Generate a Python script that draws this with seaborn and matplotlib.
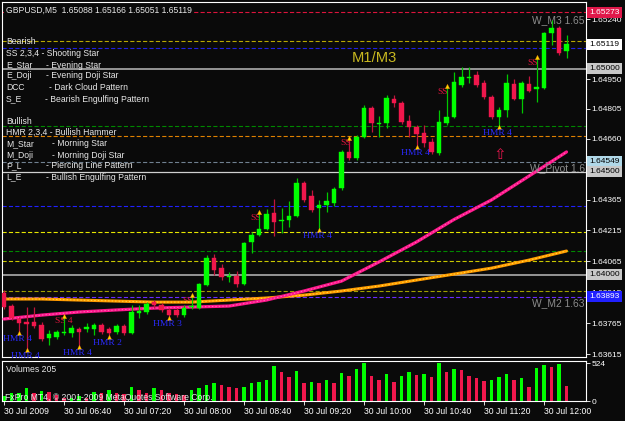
import numpy as np
import pandas as pd
import seaborn as sns
import matplotlib.pyplot as plt

# GBPUSD M5, 30 Jul 2009, one bar every 5 minutes from 06:00 to 12:15
opens = [1.63911, 1.63848, 1.63785, 1.63770, 1.63770, 1.63756, 1.63693, 1.63698, 1.63719, 1.63717,
         1.63736, 1.63736, 1.63736, 1.63756, 1.63736, 1.63722, 1.63751, 1.63717, 1.63814, 1.63819,
         1.63867, 1.63853, 1.63829, 1.63829, 1.63804, 1.63843, 1.63838, 1.63950, 1.64081, 1.64032,
         1.63991, 1.63994, 1.63955, 1.64159, 1.64193, 1.64222, 1.64300, 1.64263, 1.64266, 1.64285,
         1.64445, 1.64382, 1.64324, 1.64338, 1.64348, 1.64421, 1.64596, 1.64567, 1.64668, 1.64809,
         1.64734, 1.64736, 1.64853, 1.64834, 1.64746, 1.64717, 1.64688, 1.64644, 1.64591, 1.64736,
         1.64766, 1.64921, 1.64957, 1.64969, 1.64931, 1.64863, 1.64766, 1.64800, 1.64926, 1.64853,
         1.64926, 1.64901, 1.64906, 1.65173, 1.65198, 1.65088]
highs = [1.63926, 1.63858, 1.63795, 1.63843, 1.63843, 1.63770, 1.63732, 1.63732, 1.63800, 1.63756,
         1.63746, 1.63766, 1.63766, 1.63766, 1.63746, 1.63761, 1.63761, 1.63853, 1.63853, 1.63867,
         1.63877, 1.63863, 1.63838, 1.63838, 1.63853, 1.63901, 1.63960, 1.64096, 1.64100, 1.64052,
         1.64013, 1.64018, 1.64159, 1.64207, 1.64304, 1.64319, 1.64368, 1.64324, 1.64358, 1.64469,
         1.64455, 1.64411, 1.64363, 1.64401, 1.64426, 1.64605, 1.64664, 1.64678, 1.64824, 1.64819,
         1.64770, 1.64872, 1.64872, 1.64843, 1.64775, 1.64727, 1.64727, 1.64664, 1.64800, 1.64916,
         1.64984, 1.65008, 1.65008, 1.64989, 1.64945, 1.64872, 1.64814, 1.64974, 1.64950, 1.64940,
         1.64965, 1.65057, 1.65178, 1.65236, 1.65207, 1.65166]
lows = [1.63834, 1.63780, 1.63717, 1.63634, 1.63741, 1.63678, 1.63659, 1.63688, 1.63707, 1.63698,
        1.63649, 1.63722, 1.63707, 1.63712, 1.63698, 1.63712, 1.63707, 1.63712, 1.63790, 1.63809,
        1.63838, 1.63819, 1.63790, 1.63795, 1.63795, 1.63834, 1.63834, 1.63945, 1.63998, 1.63974,
        1.63964, 1.63940, 1.63950, 1.64105, 1.64188, 1.64217, 1.64188, 1.64202, 1.64232, 1.64280,
        1.64353, 1.64304, 1.64217, 1.64304, 1.64333, 1.64411, 1.64557, 1.64557, 1.64664, 1.64693,
        1.64668, 1.64712, 1.64814, 1.64732, 1.64668, 1.64620, 1.64620, 1.64586, 1.64581, 1.64727,
        1.64761, 1.64911, 1.64931, 1.64911, 1.64853, 1.64756, 1.64717, 1.64766, 1.64848, 1.64785,
        1.64887, 1.64838, 1.64901, 1.65115, 1.65067, 1.65051]
closes = [1.63843, 1.63790, 1.63766, 1.63761, 1.63751, 1.63688, 1.63712, 1.63722, 1.63722, 1.63741,
          1.63722, 1.63746, 1.63756, 1.63722, 1.63717, 1.63751, 1.63717, 1.63819, 1.63824, 1.63858,
          1.63853, 1.63829, 1.63804, 1.63804, 1.63838, 1.63846, 1.63955, 1.64081, 1.64023, 1.63989,
          1.63994, 1.63955, 1.64154, 1.64193, 1.64222, 1.64295, 1.64256, 1.64266, 1.64285, 1.64445,
          1.64363, 1.64314, 1.64338, 1.64358, 1.64416, 1.64596, 1.64567, 1.64668, 1.64809, 1.64736,
          1.64736, 1.64858, 1.64834, 1.64741, 1.64717, 1.64683, 1.64639, 1.64596, 1.64741, 1.64766,
          1.64935, 1.64960, 1.64960, 1.64921, 1.64863, 1.64766, 1.64800, 1.64931, 1.64853, 1.64931,
          1.64892, 1.64911, 1.65173, 1.65198, 1.65076, 1.65119]
volumes = [70, 107, 116, 176, 107, 139, 125, 79, 37, 46,
           70, 46, 125, 116, 153, 107, 93, 200, 153, 116,
           176, 153, 107, 93, 88, 153, 186, 218, 255, 218,
           195, 176, 200, 246, 269, 292, 478, 404, 334, 418,
           255, 269, 255, 292, 255, 385, 348, 441, 524, 348,
           292, 371, 269, 348, 404, 362, 371, 334, 524, 394,
           441, 432, 348, 316, 278, 292, 334, 371, 292, 316,
           200, 450, 501, 473, 515, 205]

# moving averages read every 5 bars
ma_bars = list(range(0, 76, 5))
ma_pink = [1.63785, 1.63804, 1.63819, 1.63829, 1.63838, 1.63843, 1.63848, 1.63877,
           1.63921, 1.63969, 1.64062, 1.64159, 1.64268, 1.64363, 1.64479, 1.64596]
ma_orange = [1.63882, 1.63882, 1.63877, 1.63872, 1.63867, 1.63867, 1.63877, 1.63887,
             1.63901, 1.63921, 1.63945, 1.63974, 1.64003, 1.64032, 1.64071, 1.64115]

# pivot / level lines
levels = [1.65273, 1.65134, 1.65100, 1.65000, 1.64722, 1.64673, 1.64549, 1.64500,
          1.64334, 1.64207, 1.64115, 1.64067, 1.64000, 1.63921, 1.63893]
level_colors = ['#dc143c', '#b8a800', '#2020e0', '#a0a0a0', '#008800', '#e08000', '#708090', '#d0d0d0',
                '#2020ff', '#e6e600', '#008800', '#c8c800', '#a0a0a0', '#a0a000', '#6a2bff']
level_solid = [False, False, False, True, False, False, False, True,
               False, False, False, False, True, False, False]

# weekly pivot names, cut off at the pane edge as in the terminal
pivot_names = ['W_M3 1.65', 'W_Pivot 1.6', 'W_M2 1.63']
pivot_y = [1.65236, 1.64518, 1.63863]

box_prices = [1.65273, 1.65119, 1.65000, 1.64549, 1.64500, 1.64000, 1.63893]
box_faces = ['#e0184a', '#ffffff', '#c8c8c8', '#b0d8e8', '#c8c8c8', '#c8c8c8', '#2020ff']
box_texts = ['white', 'black', 'black', 'black', 'black', 'black', 'white']

ss_bars = [8, 25, 34, 46, 59, 71]
ss_text = ['SS 4', 'SS', 'SS', 'SS', 'SS', 'SS']
hmr_bars = [2, 3, 10, 14, 22, 42, 55, 66]
hmr_text = ['HMR 4', 'HMR 4', 'HMR 4', 'HMR 2', 'HMR 3', 'HMR 4', 'HMR 4', 'HMR 4']

time_ticks = list(range(0, 76, 8))
time_labels = ['30 Jul 2009', '30 Jul 06:40', '30 Jul 07:20', '30 Jul 08:00', '30 Jul 08:40',
               '30 Jul 09:20', '30 Jul 10:00', '30 Jul 10:40', '30 Jul 11:20', '30 Jul 12:00']
price_ticks = [1.65240, 1.64950, 1.64805, 1.64660, 1.64365,
               1.64215, 1.64065, 1.63915, 1.63765, 1.63615]

legend_rows = [('Bearish', None), ('SS 2,3,4 - Shooting Star', None), ('E_Star', '- Evening Star'),
               ('E_Doji', '- Evening Doji Star'), ('DCC', '- Dark Cloud Pattern'),
               ('S_E', '- Bearish Engulfing Pattern'), ('Bullish', None),
               ('HMR 2,3,4 - Bullish Hammer', None), ('M_Star', '- Morning Star'),
               ('M_Doji', '- Morning Doji Star'), ('P_L', '- Piercing Line Pattern'),
               ('L_E', '- Bullish Engulfing Pattern')]
legend_y = [42, 53, 65, 76, 87, 99, 121, 132, 144, 155, 166, 177]
legend_dx = [0, 0, 40, 40, 43, 39, 0, 0, 46, 46, 40, 40]

BG = '#0a0a0a'
UP = '#00ff00'
DOWN = '#f0174c'
SS_COL = '#dc143c'
HMR_COL = '#2a2aff'

sns.set_style('dark', {'axes.facecolor': BG, 'figure.facecolor': BG, 'axes.edgecolor': 'white',
                       'text.color': 'white', 'xtick.color': 'white', 'ytick.color': 'white'})
plt.rcParams['font.family'] = ['Liberation Sans', 'DejaVu Sans']
plt.rcParams['lines.scale_dashes'] = False


def fx(px):
    return px / 625


def fy(py):
    return 1 - py / 421


fig = plt.figure(figsize=(6.25, 4.21), dpi=100)
ax = fig.add_axes([fx(2), fy(357), fx(584), 355 / 421])
axv = fig.add_axes([fx(2), fy(401), fx(584), 40 / 421])

o = np.array(opens)
h = np.array(highs)
l = np.array(lows)
c = np.array(closes)
idx = np.arange(len(o))
up = c >= o

# level lines
for p, col, solid in zip(levels, level_colors, level_solid):
    if solid:
        ax.axhline(p, color=col, lw=1.3 if col == '#a0a0a0' else 0.9, zorder=1)
    else:
        ax.axhline(p, color=col, lw=0.8, ls=(0, (3, 1.6)), zorder=1)

# moving averages
sns.lineplot(x=ma_bars, y=ma_orange, ax=ax, color='#ff9a00', lw=2.2, zorder=3)
sns.lineplot(x=ma_bars, y=ma_orange, ax=ax, color='#ffe040', lw=0.7, ls=(0, (1, 1.5)), zorder=3)
sns.lineplot(x=ma_bars, y=ma_pink, ax=ax, color='#ff168c', lw=2.3, zorder=3)
sns.lineplot(x=ma_bars, y=ma_pink, ax=ax, color='#ff70b8', lw=0.7, ls=(0, (1, 1.5)), zorder=3)

# SS labels sit behind the candles
for b, t in zip(ss_bars, ss_text):
    ax.annotate(t, (b, h[b]), xytext=(-6.5, -4), textcoords='offset points', ha='left', va='center',
                color=SS_COL, fontsize=6.8, family=['Liberation Serif', 'DejaVu Serif'], zorder=2)

# candles
body_col = np.where(up, UP, DOWN)
wick_col = np.where(up, '#00c800', '#c0143c')
ax.vlines(idx, l, h, colors=wick_col, lw=0.9, zorder=4)
ax.bar(idx, np.maximum(np.abs(c - o), 0.000012), bottom=np.minimum(o, c), width=0.62,
       color=body_col, edgecolor=body_col, linewidth=0.3, zorder=5)

# pattern arrows and hammer labels
ax.scatter(ss_bars, h[ss_bars], marker='^', s=9, c='#ffd700', edgecolors='#ff9900', linewidths=0.3, zorder=6)
ax.scatter(hmr_bars, l[hmr_bars], marker='^', s=9, c='#ffd700', edgecolors='#ff9900', linewidths=0.3, zorder=6)
for b, t in zip(hmr_bars, hmr_text):
    ax.annotate(t, (b, l[b]), xytext=(-11.5, -4.5), textcoords='offset points', ha='left', va='center',
                color=HMR_COL, fontsize=6.8, family=['Liberation Serif', 'DejaVu Serif'], zorder=6)

ax.text(46.4, 1.65052, 'M1/M3', color='#c8b820', fontsize=10.6, ha='left', va='center', zorder=6)
ax.text(66.1, 1.64584, '\u21e7', color='#e0164a', fontsize=11, ha='center', va='center',
        family=['DejaVu Sans'], zorder=6)
ytr = ax.get_yaxis_transform()
for name, py in zip(pivot_names, pivot_y):
    ax.text(0.998, py, name, transform=ytr, color='#8c8c8c', fontsize=7.4, ha='right', va='center')

ax.set_xlim(-0.27, 77.6)
ax.set_ylim(1.636006, 1.653238)
ax.set_xticks([])
ax.set_yticks(price_ticks)
ax.set_yticklabels(['%.5f' % p for p in price_ticks])
ax.tick_params(axis='y', left=False, right=True, labelleft=False, labelright=True, direction='out',
               length=3, width=0.6, colors='white', labelsize=6.0, pad=1)
ax.set_xlabel('')
ax.set_ylabel('')
for s in ax.spines.values():
    s.set_color('white')
    s.set_linewidth(0.8)

for p, fc, tc in zip(box_prices, box_faces, box_texts):
    ax.text(1.006, p, '%.5f' % p, transform=ytr, ha='left', va='center', fontsize=6.0, color=tc,
            clip_on=False, zorder=8, bbox=dict(boxstyle='square,pad=0.25', fc=fc, ec='none'))

# volume pane
vol = np.array(volumes)
vdir = np.where(np.r_[True, vol[1:] > vol[:-1]], 'up', 'down')
vol_df = pd.DataFrame({'bar': idx, 'volume': vol, 'dir': vdir})
sns.barplot(data=vol_df, x='bar', y='volume', hue='dir', hue_order=['up', 'down'],
            palette={'up': UP, 'down': DOWN}, dodge=False, native_scale=True, width=0.5,
            saturation=1, errorbar=None, legend=False, linewidth=0, ax=axv)
axv.set_xlim(-0.27, 77.6)
axv.set_ylim(0, 552)
axv.set_yticks([0, 524])
axv.set_yticklabels(['0', '524'])
axv.set_xticks(time_ticks)
axv.set_xticklabels(time_labels, ha='left')
axv.tick_params(axis='y', left=False, right=True, labelleft=False, labelright=True, direction='out',
                length=3, width=0.6, colors='white', labelsize=6.0, pad=1)
axv.tick_params(axis='x', bottom=True, direction='out', length=3, width=0.6, colors='white',
                labelsize=6.2, pad=1.5)
axv.set_xlabel('')
axv.set_ylabel('')
for s in axv.spines.values():
    s.set_color('white')
    s.set_linewidth(0.8)

# header, legend and footer texts
fig.text(fx(6), fy(10), 'GBPUSD,M5  1.65088 1.65166 1.65051 1.65119', fontsize=6.2, color='#e8e8e8',
         va='center', bbox=dict(boxstyle='square,pad=0.2', fc=BG, ec='none'))
for (a, d), yy, dx in zip(legend_rows, legend_y, legend_dx):
    fig.text(fx(6), fy(yy), a, fontsize=6.2, color='#e8e8e8', va='center')
    if d:
        fig.text(fx(6 + dx), fy(yy), d, fontsize=6.2, color='#e8e8e8', va='center')
fig.text(fx(6), fy(370), 'Volumes 205', fontsize=6.2, color='#e8e8e8', va='center')
fig.text(fx(5), fy(398), 'FxPro MT4, \u00a9 2001-2009 MetaQuotes Software Corp.', fontsize=6.2,
         color='#e8e8e8', va='center')

fig.savefig('out.png', dpi=100, facecolor=BG)
